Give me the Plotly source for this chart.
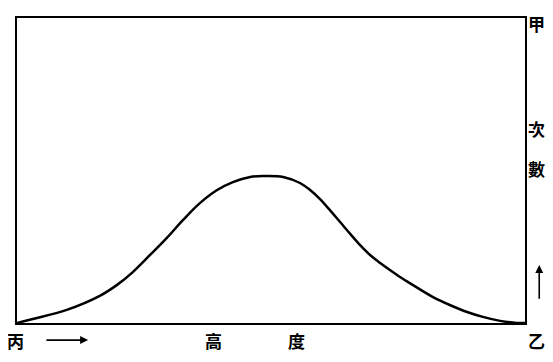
import plotly.graph_objects as go

# height (x) vs. number of cases (y), 0-100 scale
height = [0, 3.1, 9.8, 16.3, 19.7, 22.8, 26.2, 29.5, 32.7, 36.0, 39.4, 42.5,
          45.9, 48.4, 52.4, 55.7, 57.7, 59.6, 61.6, 63.6, 65.6, 67.5, 69.5,
          71.5, 73.4, 75.4, 77.9, 81.9, 85.2, 88.6, 91.7, 95.1, 98.4, 100]
count = [0, 1.3, 4.3, 8.9, 12.5, 16.7, 22.3, 27.9, 33.8, 39.3, 43.6, 46.2,
         47.9, 48.2, 47.9, 45.9, 43.6, 40.7, 37.0, 33.1, 29.2, 25.6, 22.3,
         19.7, 17.4, 15.1, 12.5, 8.5, 5.9, 3.6, 2.0, 0.7, 0, 0]

font = dict(family="Noto Sans CJK TC", size=17, color="black", weight="bold")

fig = go.Figure()
fig.add_trace(go.Scatter(
    x=height, y=count, mode="lines",
    line=dict(color="black", width=2.5, shape="spline", smoothing=1.0),
    hoverinfo="skip"
))

labels = [
    ("丙", -0.002, -0.056),
    ("高", 0.386, -0.056),
    ("度", 0.551, -0.056),
    ("乙", 1.022, -0.056),
    ("甲", 1.022, 0.982),
    ("次", 1.022, 0.639),
    ("數", 1.022, 0.508),
]
for txt, x, y in labels:
    fig.add_annotation(text=txt, x=x, y=y, xref="paper", yref="paper",
                       xanchor="center", yanchor="middle",
                       showarrow=False, font=font)

# direction arrows
fig.add_annotation(x=0.14, y=-0.056, ax=0.055, ay=-0.056,
                   xref="x domain", yref="y domain",
                   axref="x domain", ayref="y domain",
                   text="", showarrow=True, arrowhead=2, arrowsize=1,
                   arrowwidth=1.6, arrowcolor="black")
fig.add_annotation(x=1.028, y=0.19, ax=1.028, ay=0.075,
                   xref="x domain", yref="y domain",
                   axref="x domain", ayref="y domain",
                   text="", showarrow=True, arrowhead=2, arrowsize=1,
                   arrowwidth=1.6, arrowcolor="black")

fig.update_xaxes(range=[0, 100], showline=True, mirror=True, linecolor="black",
                 linewidth=2, showgrid=False, zeroline=False, showticklabels=False,
                 ticks="")
fig.update_yaxes(range=[0, 100], showline=True, mirror=True, linecolor="black",
                 linewidth=2, showgrid=False, zeroline=False, showticklabels=False,
                 ticks="")
# page body adds an 8px margin; keep the page from scrolling
fig.update_layout(
    width=545, height=346,
    margin=dict(l=9, r=28, t=10, b=31),
    plot_bgcolor="white", paper_bgcolor="white",
    showlegend=False
)

fig.write_html("out.html")
